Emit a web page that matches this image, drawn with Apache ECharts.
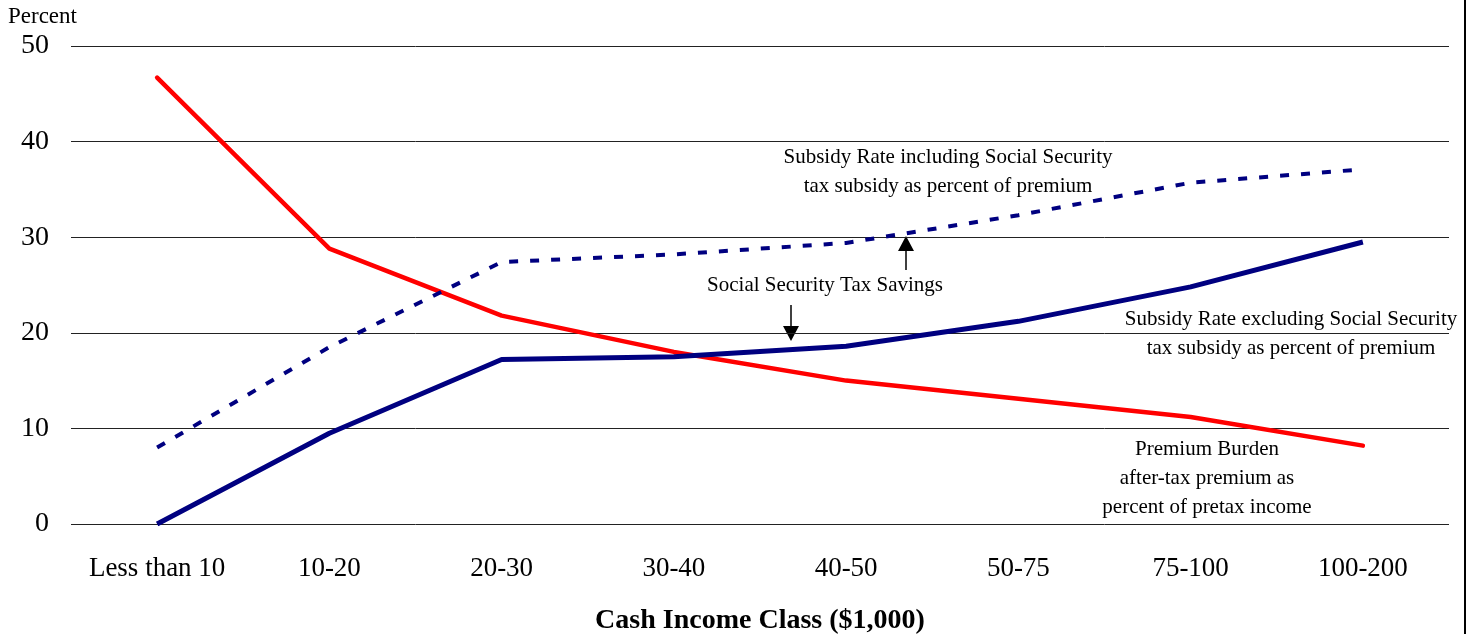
<!DOCTYPE html>
<html>
<head>
<meta charset="utf-8">
<script src="https://cdn.jsdelivr.net/npm/echarts@6/dist/echarts.min.js"></script>
<style>
  html, body { margin: 0; padding: 0; background: #fff; }
  #chart { width: 1475px; height: 634px; }
</style>
</head>
<body>
<div id="chart"></div>
<script>
// Cash income classes ($1,000)
const categories = ['Less than 10', '10-20', '20-30', '30-40', '40-50', '50-75', '75-100', '100-200'];

// Percent values
const premiumBurden = [46.7, 28.8, 21.8, 18.0, 15.0, 13.1, 11.2, 8.2];
const subsidyExclSS = [0.0, 9.5, 17.2, 17.5, 18.6, 21.2, 24.8, 29.5];
const subsidyInclSS = [8.0, 18.5, 27.4, 28.2, 29.4, 32.3, 35.7, 37.1];

const yTicks = [0, 10, 20, 30, 40, 50];

const font = '"Liberation Serif", "Times New Roman", serif';

const chart = echarts.init(document.getElementById('chart'));

// note texts sit in pixel space, next to the curves
const note = (x, y, text) => ({
  type: 'text',
  x: x,
  y: y,
  style: {
    text: text,
    font: '21px ' + font,
    fill: '#000',
    align: 'center',
    verticalAlign: 'middle',
    lineHeight: 29
  }
});

const arrow = (x, y1, y2) => {
  // shaft from y1 to the head, head tip at y2
  const dir = y2 > y1 ? 1 : -1;
  return [
    { type: 'line', shape: { x1: x, y1: y1, x2: x, y2: y2 - dir * 14 }, style: { stroke: '#000', lineWidth: 1.5 } },
    { type: 'polygon', shape: { points: [[x - 8, y2 - dir * 15], [x + 8, y2 - dir * 15], [x, y2]] }, style: { fill: '#000' } }
  ];
};

const option = {
  backgroundColor: '#fff',
  animation: false,
  grid: { left: 71, right: 26, top: 46, bottom: 110, containLabel: false, outerBoundsMode: 'none' },
  xAxis: {
    type: 'category',
    data: categories,
    boundaryGap: true,
    axisLine: { show: false },
    axisTick: { show: false },
    axisLabel: { color: '#000', fontFamily: font, fontSize: 27, margin: 31, interval: 0 },
    name: 'Cash Income Class ($1,000)',
    nameLocation: 'middle',
    nameGap: 83,
    nameTextStyle: { color: '#000', fontFamily: font, fontSize: 28, fontWeight: 'bold' }
  },
  yAxis: {
    type: 'value',
    min: yTicks[0],
    max: yTicks[yTicks.length - 1],
    interval: 10,
    axisLine: { show: false },
    axisTick: { show: false },
    axisLabel: { color: '#000', fontFamily: font, fontSize: 28, margin: 22 },
    splitLine: { lineStyle: { color: '#222', width: 1 } }
  },
  series: [
    {
      name: 'Premium Burden',
      type: 'line',
      data: premiumBurden,
      symbol: 'none',
      lineStyle: { color: '#ff0000', width: 4.5, cap: 'round', join: 'round' },
      z: 3
    },
    {
      name: 'Subsidy Rate excluding Social Security',
      type: 'line',
      data: subsidyExclSS,
      symbol: 'none',
      lineStyle: { color: '#000080', width: 5, join: 'round' },
      z: 4
    },
    {
      name: 'Subsidy Rate including Social Security',
      type: 'line',
      data: subsidyInclSS,
      symbol: 'none',
      lineStyle: { color: '#000080', width: 4, type: [9, 12] },
      z: 4
    }
  ],
  graphic: [
    {
      type: 'text',
      left: 8,
      top: 5,
      style: { text: 'Percent', font: '23px ' + font, fill: '#000' }
    },
    note(948, 172, 'Subsidy Rate including Social Security\ntax subsidy as percent of premium'),
    note(825, 285, 'Social Security Tax Savings'),
    note(1291, 334, 'Subsidy Rate excluding Social Security\ntax subsidy as percent of premium'),
    note(1207, 478, 'Premium Burden\nafter-tax premium as\npercent of pretax income'),
    ...arrow(791, 305, 341),
    ...arrow(906, 270, 236),
    {
      type: 'line',
      shape: { x1: 1465, y1: 0, x2: 1465, y2: 634 },
      style: { stroke: '#000', lineWidth: 2 }
    }
  ]
};

chart.setOption(option);
window.addEventListener('resize', () => chart.resize());
</script>
</body>
</html>
